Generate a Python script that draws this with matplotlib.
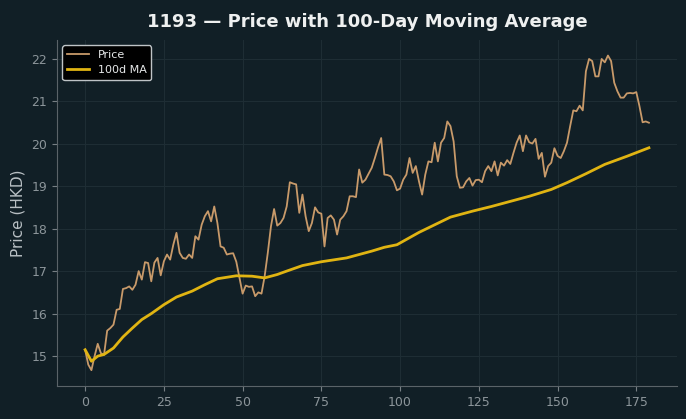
import numpy as np
import matplotlib
matplotlib.use("Agg")
import matplotlib.pyplot as plt

# price, one value per day (index 0..179)
price = [15.15, 14.80, 14.67, 15.00, 15.29, 15.07, 15.03, 15.60, 15.66, 15.74,
         16.09, 16.11, 16.58, 16.60, 16.64, 16.56, 16.68, 17.00, 16.80, 17.21,
         17.19, 16.76, 17.20, 17.31, 16.90, 17.23, 17.39, 17.27, 17.62, 17.90,
         17.43, 17.31, 17.29, 17.39, 17.31, 17.82, 17.74, 18.09, 18.29, 18.41,
         18.17, 18.52, 18.13, 17.58, 17.55, 17.39, 17.41, 17.42, 17.22, 16.84,
         16.47, 16.66, 16.63, 16.64, 16.41, 16.50, 16.47, 16.88, 17.43, 18.05,
         18.46, 18.07, 18.13, 18.25, 18.52, 19.09, 19.06, 19.04, 18.37, 18.80,
         18.29, 17.94, 18.13, 18.50, 18.38, 18.35, 17.58, 18.25, 18.31, 18.21,
         17.86, 18.21, 18.29, 18.41, 18.76, 18.76, 18.74, 19.39, 19.08, 19.15,
         19.29, 19.43, 19.66, 19.91, 20.13, 19.27, 19.26, 19.23, 19.11, 18.90,
         18.94, 19.15, 19.27, 19.66, 19.31, 19.47, 19.11, 18.80, 19.27, 19.58,
         19.56, 20.02, 19.58, 20.02, 20.13, 20.52, 20.41, 20.05, 19.23, 18.96,
         18.97, 19.11, 19.19, 19.01, 19.14, 19.15, 19.09, 19.35, 19.47, 19.35,
         19.58, 19.25, 19.55, 19.48, 19.61, 19.52, 19.78, 20.02, 20.19, 19.82,
         20.19, 20.03, 20.00, 20.11, 19.64, 19.78, 19.22, 19.47, 19.55, 19.89,
         19.71, 19.66, 19.82, 20.02, 20.41, 20.78, 20.76, 20.89, 20.78, 21.70,
         21.99, 21.94, 21.58, 21.58, 21.99, 21.91, 22.07, 21.94, 21.43, 21.23,
         21.08, 21.08, 21.18, 21.19, 21.18, 21.21, 20.88, 20.50, 20.52, 20.49]
days = np.arange(len(price))

# 100d moving average, read at a set of days
ma_days = [0, 2, 4, 6, 9, 12, 15, 18, 21, 25, 29, 34, 38, 42, 48, 53, 57, 61,
           64, 69, 75, 83, 91, 95, 99, 106, 116, 123, 129, 141, 148, 153, 159,
           165, 172, 179]
ma_vals = [15.15, 14.88, 15.00, 15.04, 15.19, 15.45, 15.66, 15.86, 16.00, 16.21,
           16.39, 16.53, 16.68, 16.82, 16.89, 16.88, 16.84, 16.92, 17.00, 17.13,
           17.22, 17.31, 17.47, 17.56, 17.62, 17.91, 18.27, 18.41, 18.52, 18.76,
           18.92, 19.08, 19.29, 19.51, 19.70, 19.90]

bg = '#111f26'
fig, ax = plt.subplots(figsize=(6.86, 4.19), dpi=100)
fig.patch.set_facecolor(bg)
ax.set_facecolor(bg)
fig.subplots_adjust(left=0.083, right=0.987, bottom=0.079, top=0.905)

ax.plot(days, price, color='#c89a6a', lw=1.3, label='Price')
ax.plot(ma_days, ma_vals, color='#e0b412', lw=2.0, label='100d MA')

ax.set_title('1193 \u2014 Price with 100-Day Moving Average', color='#eef0f0',
             fontsize=13, fontweight='bold', pad=9)
ax.set_ylabel('Price (HKD)', color='#b9c0c4', fontsize=11)
ax.set_xticks([0, 25, 50, 75, 100, 125, 150, 175])
ax.tick_params(colors='#8c959a', labelsize=9)
ax.tick_params(axis='both', color='#777f84')
for s in ['top', 'right']:
    ax.spines[s].set_visible(False)
for s in ['left', 'bottom']:
    ax.spines[s].set_color('#5a6368')
ax.grid(True, color='#1f2e35', lw=0.7)
ax.set_axisbelow(True)

leg = ax.legend(loc='upper left', fontsize=8, facecolor='#000000',
                edgecolor='#bfc4c7', framealpha=1.0)
for t in leg.get_texts():
    t.set_color('#e6e8e9')

plt.savefig('out.png', facecolor=bg)
